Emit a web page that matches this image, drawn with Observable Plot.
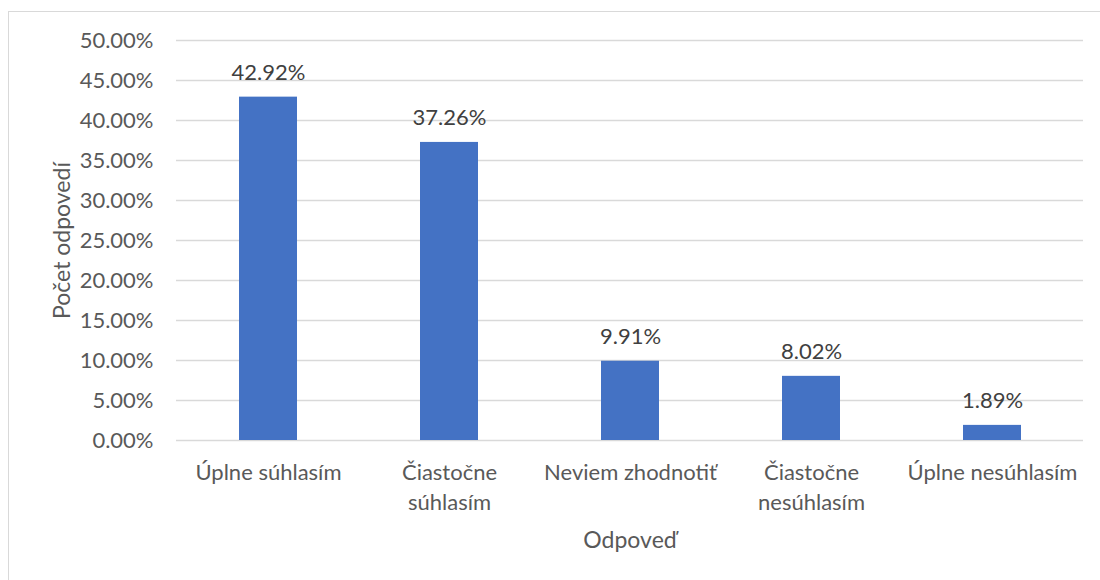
<!DOCTYPE html>
<html>
<head>
<meta charset="utf-8">
<script src="https://cdn.jsdelivr.net/npm/d3@7"></script>
<script src="https://cdn.jsdelivr.net/npm/@observablehq/plot@0.6"></script>
<style>
  html, body { margin: 0; padding: 0; background: #fff; overflow: hidden; }
  #wrap { position: relative; width: 1100px; height: 580px; }
  #border { position: absolute; left: 8px; top: 11px; width: 1200px; height: 700px; border: 1px solid #d9d9d9; box-sizing: border-box; pointer-events: none; }
  #chart { position: absolute; left: 0; top: 0; }
</style>
</head>
<body>
<div id="wrap"><div id="border"></div><div id="chart"></div></div>
<script>
const categories = ["Úplne súhlasím", "Čiastočne súhlasím", "Neviem zhodnotiť", "Čiastočne nesúhlasím", "Úplne nesúhlasím"];
const tickLabels = ["Úplne súhlasím", "Čiastočne\nsúhlasím", "Neviem zhodnotiť", "Čiastočne\nnesúhlasím", "Úplne nesúhlasím"];
const values = [42.92, 37.26, 9.91, 8.02, 1.89];
const yTicks = [0, 5, 10, 15, 20, 25, 30, 35, 40, 45, 50];
const xTitle = "Odpoveď";
const yTitle = "Počet odpovedí";

const data = categories.map((c, i) => ({category: c, value: values[i]}));
const labelOf = new Map(categories.map((c, i) => [c, tickLabels[i]]));
const font = "Lato, 'Open Sans', sans-serif";

const chart = Plot.plot({
  width: 1100,
  height: 580,
  marginTop: 40,
  marginBottom: 140,
  marginLeft: 176,
  marginRight: 17,
  style: {fontFamily: font, fontSize: "22px", color: "#595959", background: "transparent"},
  x: {domain: categories, paddingInner: 0.68, paddingOuter: 0.34, align: 0.5},
  y: {domain: [0, 50]},
  marks: [
    Plot.gridY(yTicks, {stroke: "#d9d9d9", strokeOpacity: 1, strokeWidth: 1.3}),
    Plot.barY(data, {x: "category", y: "value", fill: "#4472c4"}),
    Plot.axisY(yTicks, {tickSize: 0, tickPadding: 23, tickFormat: d => d.toFixed(2) + "%", fontSize: 22, fill: "#595959", label: null}),
    Plot.axisX({tickSize: 0, tickPadding: 18, tickFormat: d => labelOf.get(d), fontSize: 22, lineHeight: 1.36, fill: "#595959", label: null}),
    Plot.text(data, {x: "category", y: "value", text: d => d.value.toFixed(2) + "%", dy: -24, fontSize: 22, fill: "#404040"}),
    Plot.text([xTitle], {frameAnchor: "bottom", lineAnchor: "middle", textAnchor: "middle", dy: 100, fontSize: 23, fill: "#595959"}),
    Plot.text([yTitle], {frameAnchor: "left", textAnchor: "middle", lineAnchor: "middle", dx: -114, rotate: -90, fontSize: 23, fill: "#595959"})
  ]
});
document.getElementById("chart").appendChild(chart);
</script>
</body>
</html>
